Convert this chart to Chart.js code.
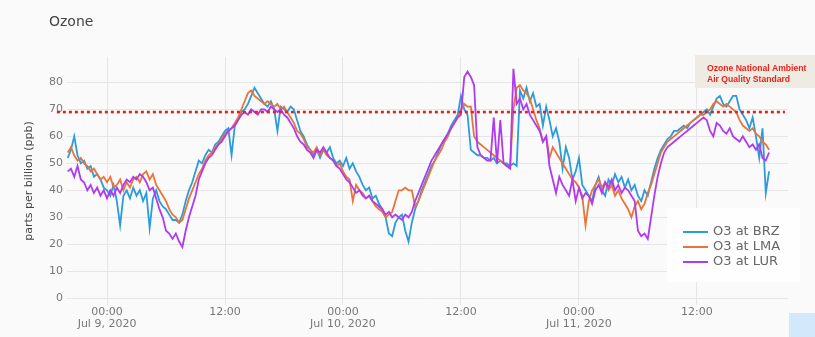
<!DOCTYPE html>
<html>
<head>
<meta charset="utf-8">
<script src="https://cdn.jsdelivr.net/npm/chart.js@4/dist/chart.umd.min.js"></script>
<style>
  html, body { margin: 0; padding: 0; background: #fafafa; }
  #wrap { position: relative; width: 815px; height: 337px; }
</style>
</head>
<body>
<div id="wrap"><canvas id="c" width="815" height="337"></canvas></div>
<script>
// Ozone readings, one sample every 20 minutes, starting Jul 8 2020 20:00
const startHour = -4;          // hours relative to Jul 9 2020 00:00
const stepHours = 1 / 3;

const BRZ = [
  52, 55, 60, 53, 50, 51, 48, 49, 45, 46, 44, 41,
  40, 38, 42, 36, 27, 38, 40, 37, 41, 38, 40, 36,
  39, 26, 37, 40, 36, 34, 33, 31, 29, 29, 28, 31,
  36, 40, 43, 47, 51, 50, 53, 55, 54, 57, 58, 60,
  62, 63, 53, 64, 66, 69, 70, 72, 75, 78, 76, 74,
  72, 71, 73, 70, 62, 71, 70, 69, 71, 70, 66, 62,
  60, 57, 55, 53, 55, 52, 55, 54, 56, 52, 50, 51,
  49, 52, 48, 50, 47, 45, 42, 40, 41, 37, 38, 35,
  33, 30, 24, 23, 28, 30, 31, 25, 21, 28, 33, 36,
  40, 43, 46, 49, 51, 54, 57, 59, 61, 64, 66, 68,
  75, 70, 68, 55, 54, 53, 53, 52, 52, 51, 52, 50,
  51, 50, 50, 49, 50, 49, 77, 74, 78, 73, 76, 71,
  72, 64, 71, 66, 60, 63, 58, 48, 56, 52, 44, 47,
  52, 42, 40, 38, 36, 42, 45, 40, 38, 44, 42, 46,
  43, 45, 41, 44, 40, 42, 38, 36, 40, 38, 43, 48,
  52, 55, 57, 59, 60, 62, 62, 63, 64, 63, 65, 66,
  67, 68, 69, 70, 68, 71, 74, 75, 72, 71, 73, 75,
  75, 70, 68, 66, 63, 67, 60, 52, 63, 39, 47
];

const LMA = [
  54, 56, 53, 51, 52, 50, 49, 47, 48, 46, 44, 45,
  43, 45, 41, 42, 44, 40, 43, 41, 44, 45, 43, 46,
  47, 44, 46, 42, 40, 38, 36, 33, 31, 30, 28, 29,
  33, 37, 40, 43, 46, 48, 51, 53, 54, 56, 57, 59,
  61, 62, 63, 65, 67, 70, 73, 76, 77, 75, 74, 73,
  72, 73, 72, 71, 72, 70, 71, 69, 67, 65, 62, 61,
  59, 56, 55, 54, 56, 53, 55, 53, 52, 51, 49, 50,
  47, 45, 44, 36, 42, 40, 39, 37, 38, 36, 34, 33,
  32, 30, 31, 32, 36, 40, 40, 41, 40, 40, 34, 36,
  39, 42, 45, 48, 51, 53, 55, 58, 60, 63, 65, 67,
  70, 72, 71, 71, 60, 58, 57, 56, 55, 54, 53, 52,
  51, 50, 49, 49, 70, 78, 79, 77, 76, 74, 70, 66,
  63, 58, 60, 52, 56, 54, 52, 50, 48, 46, 44, 43,
  41, 38, 27, 36, 40, 42, 44, 41, 43, 40, 42, 38,
  40, 37, 35, 33, 30, 34, 36, 33, 35, 39, 42, 46,
  50, 54, 56, 58, 59, 60, 61, 62, 63, 64, 65, 66,
  67, 68, 68, 69, 70, 72, 73, 72, 71, 72, 71, 70,
  69, 66, 64, 63, 62, 63, 61, 60, 58, 57, 55
];

const LUR = [
  47, 48, 45, 49, 44, 43, 40, 42, 39, 41, 38, 40,
  37, 40, 38, 41, 39, 42, 44, 43, 45, 44, 46, 45,
  43, 40, 41, 37, 33, 30, 25, 24, 22, 24, 21, 19,
  25, 30, 34, 38, 44, 47, 50, 52, 53, 55, 57, 58,
  60, 62, 63, 64, 66, 68, 69, 68, 70, 69, 68, 70,
  70, 69, 71, 70, 69, 70, 68, 67, 65, 63, 60, 58,
  57, 55, 54, 52, 55, 54, 56, 54, 52, 51, 49, 48,
  46, 44, 43, 41, 39, 40, 38, 37, 38, 36, 35, 34,
  33, 31, 32, 30, 31, 30, 29, 31, 30, 32, 36, 39,
  42, 45, 48, 51, 53, 55, 57, 59, 61, 63, 65, 67,
  68, 82, 84, 82, 79, 56, 53, 52, 51, 51, 67, 50,
  66, 50, 49, 48, 85, 72, 74, 70, 72, 68, 66, 64,
  62, 58, 60, 49, 44, 39, 45, 42, 40, 38, 44, 36,
  41, 37, 39, 38, 35, 40, 42, 39, 43, 41, 44, 40,
  42, 39, 41, 40, 38, 36, 25, 23, 24, 22, 30, 38,
  45, 50, 54, 56, 57, 58, 59, 60, 61, 62, 63, 64,
  65, 66, 67, 66, 62, 60, 65, 64, 62, 61, 63, 60,
  59, 58, 60, 58, 56, 57, 55, 57, 52, 51, 54
];

const seriesNames = ['O3 at BRZ', 'O3 at LMA', 'O3 at LUR'];
const seriesColors = ['#2c9bdc', '#e8743a', '#b03af0'];

// Ozone National Ambient Air Quality Standard reference line
const standardLevel = 69;
const standardSpan = [-5.1, 68.95];

const xTickHours = [0, 12, 24, 36, 48, 60];
const xTickLabels = [
  ['00:00', 'Jul 9, 2020'], ['12:00'],
  ['00:00', 'Jul 10, 2020'], ['12:00'],
  ['00:00', 'Jul 11, 2020'], ['12:00']
];
const yTicks = [0, 10, 20, 30, 40, 50, 60, 70, 80];

const toPoints = arr => arr.map((v, i) => ({ x: startHour + i * stepHours, y: v }));
const FONT = 'DejaVu Sans';

const decorations = {
  id: 'decorations',
  beforeDraw(chart) {
    const ctx = chart.ctx;
    ctx.save();
    ctx.fillStyle = '#fafafa';
    ctx.fillRect(0, 0, chart.width, chart.height);
    // pale blue corner of the slide backdrop
    ctx.fillStyle = '#d3e8fa';
    ctx.fillRect(789, 313, 26, 24);
    ctx.restore();
  },
  beforeDatasetsDraw(chart) {
    // legend panel hides the grid behind it
    const ctx = chart.ctx;
    ctx.save();
    ctx.fillStyle = '#fefefe';
    ctx.fillRect(667, 208, 133, 74);
    ctx.restore();
  },
  afterDraw(chart) {
    const ctx = chart.ctx;
    ctx.save();
    // chart title
    ctx.fillStyle = '#444';
    ctx.font = '14px "' + FONT + '"';
    ctx.textBaseline = 'middle';
    ctx.textAlign = 'left';
    ctx.fillText('Ozone', 49, 22);

    // standard annotation
    ctx.fillStyle = '#eeebe3';
    ctx.fillRect(695, 55, 120, 33);
    ctx.fillStyle = '#e8231c';
    ctx.font = 'bold 8.6px "Liberation Sans"';
    ctx.fillText('Ozone National Ambient', 707, 69);
    ctx.fillText('Air Quality Standard', 707, 80);

    // legend
    ctx.font = '13px "' + FONT + '"';
    const rows = [232, 247, 262];
    chart.data.datasets.slice(0, 3).forEach((ds, i) => {
      ctx.strokeStyle = ds.borderColor;
      ctx.lineWidth = 2;
      ctx.beginPath();
      ctx.moveTo(683, rows[i]);
      ctx.lineTo(708, rows[i]);
      ctx.stroke();
      ctx.fillStyle = '#666';
      ctx.fillText(ds.label, 713, rows[i]);
    });
    ctx.restore();
  }
};

new Chart(document.getElementById('c'), {
  type: 'line',
  data: {
    datasets: [
      { label: seriesNames[0], data: toPoints(BRZ), borderColor: seriesColors[0], order: 3 },
      { label: seriesNames[1], data: toPoints(LMA), borderColor: seriesColors[1], order: 2 },
      { label: seriesNames[2], data: toPoints(LUR), borderColor: seriesColors[2], order: 1 },
      {
        label: 'standard',
        data: standardSpan.map(x => ({ x, y: standardLevel })),
        borderColor: '#e2211c', borderWidth: 2.6, borderDash: [3, 3],
        clip: false, order: 0
      }
    ]
  },
  options: {
    responsive: false,
    animation: false,
    devicePixelRatio: 1,
    layout: { padding: { top: 57, right: 27, left: 0, bottom: 0 } },
    elements: {
      line: { borderWidth: 1.8, tension: 0, fill: false },
      point: { radius: 0, hoverRadius: 0 }
    },
    plugins: { legend: { display: false }, tooltip: { enabled: false } },
    scales: {
      x: {
        type: 'linear',
        min: -4.07, max: 69.26,
        afterBuildTicks: s => { s.ticks = xTickHours.map(v => ({ value: v })); },
        afterFit: s => { s.height = 32; },
        grid: { color: '#e6e6e6', drawTicks: false },
        border: { display: false },
        ticks: {
          padding: 1, maxRotation: 0, autoSkip: false, color: '#777',
          font: { family: FONT, size: 11, lineHeight: 1.1 },
          callback: v => xTickLabels[xTickHours.indexOf(v)] || ''
        }
      },
      y: {
        min: -2.5, max: 89.4,
        afterBuildTicks: s => { s.ticks = yTicks.map(v => ({ value: v })); },
        afterFit: s => { s.width = 67; },
        grid: { color: '#e6e6e6', drawTicks: false },
        border: { display: false },
        ticks: { padding: 4, color: '#777', font: { family: FONT, size: 11 } },
        title: {
          display: true, text: 'parts per billion (ppb)', color: '#444',
          font: { family: FONT, size: 11 }, padding: { top: 23, bottom: 0 }
        }
      }
    }
  },
  plugins: [decorations]
});
</script>
</body>
</html>
